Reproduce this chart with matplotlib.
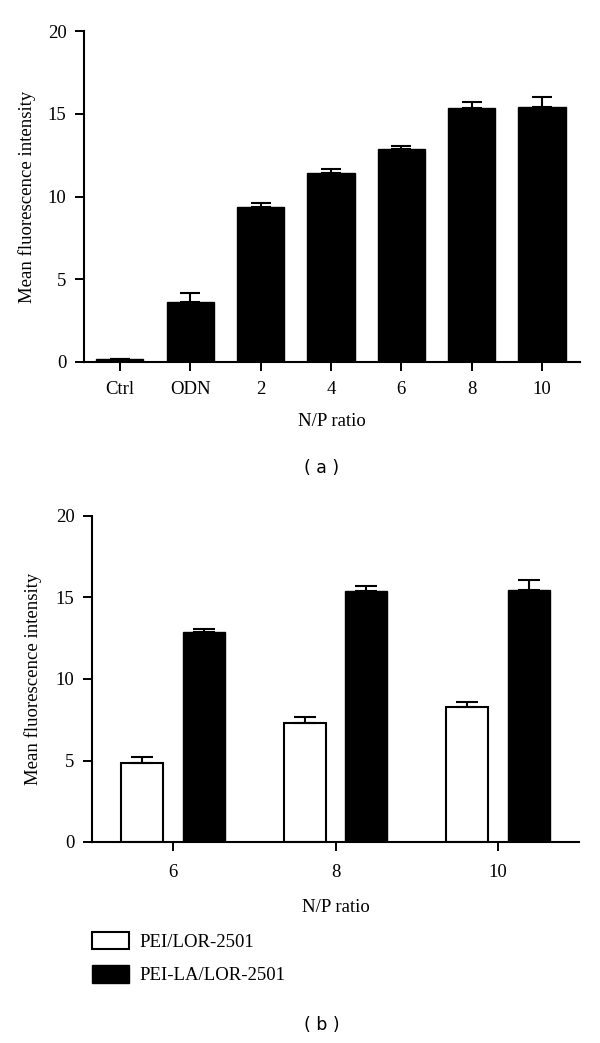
import matplotlib
matplotlib.use('Agg')
import matplotlib.pyplot as plt
import numpy as np
from matplotlib.patches import Patch

plt.rcParams['font.family'] = ['Liberation Serif', 'DejaVu Serif']

# ---- data: panel (a) ----
cats_a = ['Ctrl', 'ODN', '2', '4', '6', '8', '10']
vals_a = [0.18, 3.62, 9.37, 11.41, 12.87, 15.37, 15.41]
errs_a = [0.03, 0.54, 0.21, 0.25, 0.16, 0.31, 0.63]

# ---- data: panel (b) ----
np_ratios_b = ['6', '8', '10']
pei_vals = [4.85, 7.30, 8.26]
pei_errs = [0.38, 0.38, 0.31]
peila_vals = [12.91, 15.38, 15.43]
peila_errs = [0.13, 0.32, 0.66]
series_names = ['PEI/LOR-2501', 'PEI-LA/LOR-2501']

y_ticks = [0, 5, 10, 15, 20]
xlabel = 'N/P ratio'
ylabel = 'Mean fluorescence intensity'

W, H = 600, 1043
fig = plt.figure(figsize=(W / 100, H / 100), dpi=100)

FS = 13.5


def style(ax, pad_x):
    for s in ['top', 'right']:
        ax.spines[s].set_visible(False)
    for s in ['left', 'bottom']:
        ax.spines[s].set_linewidth(1.5)
    ax.spines['left'].set_bounds(0, 20)
    ax.set_ylim(0, 20)
    ax.set_yticks(y_ticks)
    ax.tick_params(axis='both', direction='out', length=6.5, width=1.4,
                   labelsize=FS)
    ax.tick_params(axis='y', pad=6)
    ax.tick_params(axis='x', pad=pad_x)


# ---- panel (a) ----
ax1 = fig.add_axes([84 / W, 1 - 362 / H, 496 / W, 331 / H])
xa = np.arange(len(cats_a))
ax1.bar(xa, vals_a, width=0.67, color='black', edgecolor='black', linewidth=1.0, zorder=2)
ax1.errorbar(xa, vals_a, yerr=[np.zeros(len(errs_a)), errs_a], fmt='none',
             ecolor='black', elinewidth=1.5, capsize=7.5, capthick=1.5, zorder=3)
ax1.set_xticks(xa)
ax1.set_xticklabels(cats_a)
ax1.set_xlim(-0.51, 6.54)
style(ax1, 7)
ax1.set_xlabel(xlabel, fontsize=FS)
ax1.xaxis.label.set_va('center')
ax1.xaxis.set_label_coords(0.5, (362 - 422) / 331)
ax1.set_ylabel(ylabel, fontsize=FS)
ax1.yaxis.label.set_va('center')
ax1.yaxis.set_label_coords((27 - 84) / 496, 0.5)

fig.text(322 / W, 1 - 468 / H, '( a )', ha='center', va='center',
         family='DejaVu Sans', fontsize=12.5)

# ---- panel (b) ----
ax2 = fig.add_axes([92 / W, 1 - 842 / H, 487 / W, 326 / H])
xb = np.arange(len(np_ratios_b))
bw = 0.26
off = 0.19
ax2.bar(xb - off, pei_vals, width=bw, color='white', edgecolor='black', linewidth=1.5, zorder=2)
ax2.bar(xb + off, peila_vals, width=bw, color='black', edgecolor='black', linewidth=1.0, zorder=2)
ax2.errorbar(xb - off, pei_vals, yerr=[np.zeros(len(pei_errs)), pei_errs], fmt='none',
             ecolor='black', elinewidth=1.5, capsize=8, capthick=1.5, zorder=3)
ax2.errorbar(xb + off, peila_vals, yerr=[np.zeros(len(peila_errs)), peila_errs], fmt='none',
             ecolor='black', elinewidth=1.5, capsize=8, capthick=1.5, zorder=3)
ax2.set_xticks(xb)
ax2.set_xticklabels(np_ratios_b)
ax2.set_xlim(-0.5, 2.5)
style(ax2, 9)
ax2.set_xlabel(xlabel, fontsize=FS)
ax2.xaxis.label.set_va('center')
ax2.xaxis.set_label_coords(0.5, (842 - 907) / 326)
ax2.set_ylabel(ylabel, fontsize=FS)
ax2.yaxis.label.set_va('center')
ax2.yaxis.set_label_coords((33 - 92) / 487, 0.5)

handles = [Patch(facecolor='white', edgecolor='black', linewidth=1.5),
           Patch(facecolor='black', edgecolor='black', linewidth=1.0)]
fig.legend(handles, series_names, loc='upper left',
           bbox_to_anchor=(92 / W, 1 - 932 / H), frameon=False,
           borderpad=0, borderaxespad=0, handlelength=1.95, handleheight=1.05,
           handletextpad=0.6, labelspacing=0.75, fontsize=FS)

fig.text(322 / W, 1 - 1025 / H, '( b )', ha='center', va='center',
         family='DejaVu Sans', fontsize=12.5)

fig.savefig('out.png', dpi=100)
